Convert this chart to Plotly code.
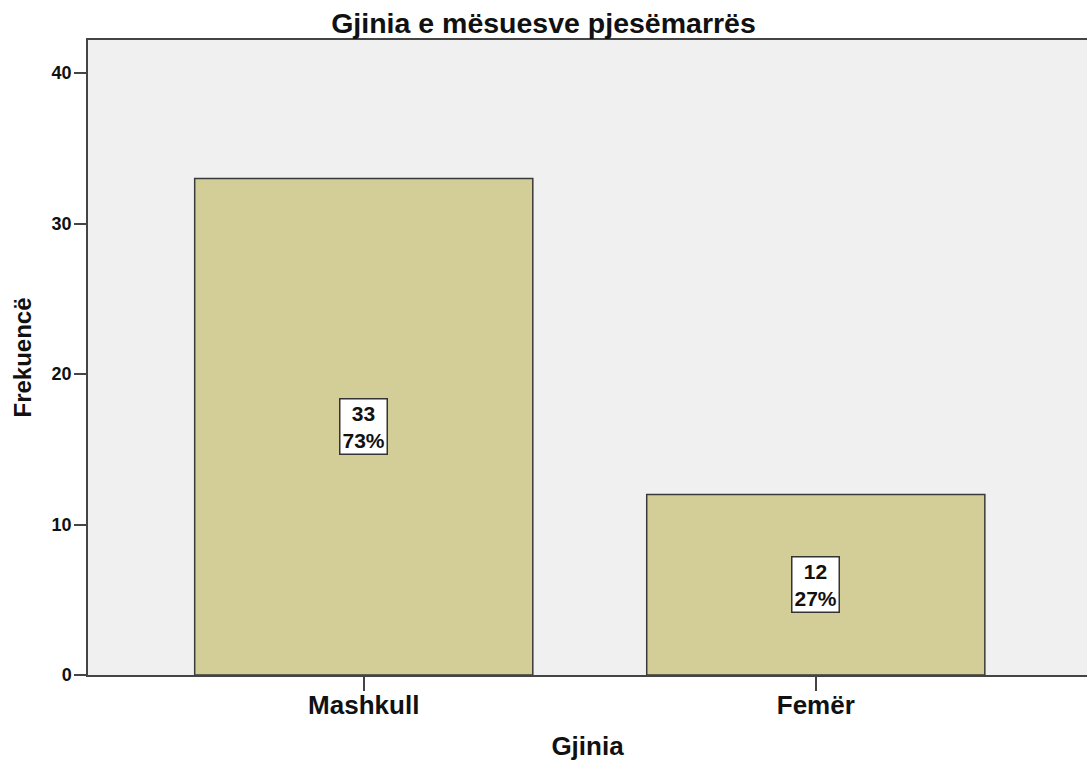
import plotly.graph_objects as go

categories = ["Mashkull", "Femër"]
counts = [33, 12]
percents = ["73%", "27%"]

fig = go.Figure()
fig.add_trace(go.Bar(
    x=categories, y=counts, width=0.748,
    marker=dict(color="#D3CE97", line=dict(color="#3a3a3a", width=1.5)),
    hoverinfo="skip",
))

for c, v, p in zip(categories, counts, percents):
    fig.add_annotation(
        x=c, y=v / 2, text=f"{v}<br>{p}", showarrow=False,
        font=dict(family="Arial", size=21, color="#111", weight="bold"),
        bgcolor="white", bordercolor="#333", borderwidth=1.5, borderpad=2,
    )

fig.update_layout(
    width=1087, height=761,
    margin=dict(l=88, r=0, t=40, b=86),
    paper_bgcolor="white", plot_bgcolor="#F0F0F0",
    showlegend=False,
    title=dict(text="Gjinia e mësuesve pjesëmarrës", x=0.5, xanchor="center",
               y=1 - 23 / 761, yanchor="middle",
               font=dict(family="Arial", size=28.5, color="#111", weight="bold")),
    font=dict(family="Arial", color="#111"),
)
fig.update_xaxes(
    range=[-0.61, 1.6], showline=True, linecolor="#444", linewidth=1.5, mirror=True,
    ticks="outside", ticklen=14, tickwidth=1.5, tickcolor="#444",
    tickfont=dict(family="Arial", size=26, weight="bold"), ticklabelstandoff=-8,
    title=dict(text="Gjinia", font=dict(family="Arial", size=26, weight="bold"), standoff=22),
    showgrid=False,
)
fig.update_yaxes(
    range=[0, 42.2], tickvals=[0, 10, 20, 30, 40], showline=True, linecolor="#444",
    linewidth=1.5, ticks="outside", ticklen=12, tickwidth=1.5, tickcolor="#444",
    tickfont=dict(family="Arial", size=18, weight="bold"), ticklabelstandoff=-1,
    title=dict(text="Frekuencë", font=dict(family="Arial", size=24, weight="bold"), standoff=13),
    showgrid=False, zeroline=False,
)

fig.write_html("out.html", config={"displayModeBar": False},
               post_script="document.body.style.margin='0';")
